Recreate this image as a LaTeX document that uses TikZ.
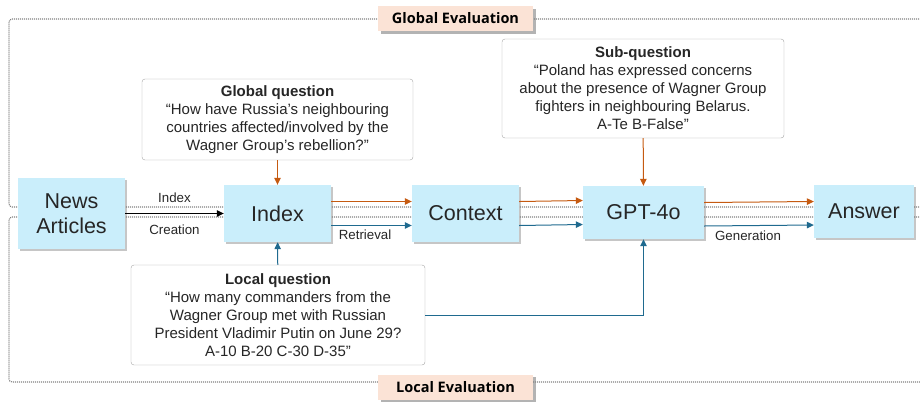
\documentclass[tikz,border=0pt]{standalone}
\usepackage{fontspec}
\setmainfont{Liberation Sans}
\newfontfamily\evalfont{Open Sans}
\usepackage{xcolor}
\usetikzlibrary{positioning,arrows.meta,shadows}

\definecolor{stagefill}{HTML}{CAEEFB}
\definecolor{evalfill}{HTML}{FBE3D6}
\definecolor{globalc}{HTML}{C55A11}
\definecolor{localc}{HTML}{1F6A8F}
\definecolor{qtext}{HTML}{262626}

\begin{document}
\begin{tikzpicture}[x=1pt, y=-1pt,
    stage/.style={draw=none, rectangle, fill=stagefill, text=black!85, font=\fontsize{21.5}{25}\selectfont,
        align=center, inner sep=0pt, drop shadow={shadow xshift=2pt, shadow yshift=-2pt, opacity=0.45}},
    question/.style={draw=black!35, rectangle, rounded corners=3pt, fill=white, text=qtext,
        font=\fontsize{15}{18}\selectfont, align=center, inner sep=0pt},
    evallabel/.style={rectangle, fill=evalfill, font=\evalfont\bfseries\fontsize{14.5}{16}\selectfont,
        minimum width=155pt, minimum height=25pt, inner sep=0pt,
        drop shadow={shadow xshift=2.5pt, shadow yshift=-2.5pt, opacity=0.6}},
    evalbox/.style={draw=black!50, line width=1.1pt, dash pattern=on 1pt off 1pt, rounded corners=3pt},
    flow/.style={-{Triangle[length=7pt,width=6.5pt]}, line width=1pt},
    gflow/.style={flow, draw=globalc},
    lflow/.style={flow, draw=localc},
    steplabel/.style={font=\fontsize{13.3}{15}\selectfont, text=black!85}]

    \useasboundingbox (0,0) rectangle (920,405);

    % Evaluation regions
    \draw[evalbox] (935,19) -- (9,19) -- (9,207) -- (935,207);
    \draw[evalbox] (935,217) -- (9,217) -- (9,382) -- (935,382);

    % Pipeline stages
    \node[stage, minimum width=107pt, minimum height=71pt] (news) at (71.5,213.5) {News\\Articles};
    \node[stage, minimum width=107pt, minimum height=57pt] (index) at (277.5,213.5) {Index};
    \node[stage, minimum width=107pt, minimum height=57pt] (context) at (465.5,213.5) {Context};
    \node[stage, minimum width=121pt, minimum height=53pt] (gpt) at (643.5,212.5) {GPT-4o};
    \node[stage, minimum width=100pt, minimum height=53pt] (answer) at (864,211.5) {Answer};

    % Questions
    \node[question, minimum width=271pt, minimum height=81pt] (globalq) at (277.5,119.5)
        {\textbf{Global question}\\``How have Russia's neighbouring\\countries affected/involved by the\\Wagner Group's rebellion?''};
    \node[question, minimum width=282pt, minimum height=99pt] (subq) at (643,88.5)
        {\textbf{Sub-question}\\``Poland has expressed concerns\\about the presence of Wagner Group\\fighters in neighbouring Belarus.\\A-Te B-False''};
    \node[question, minimum width=294pt, minimum height=100pt] (localq) at (278,315)
        {\textbf{Local question}\\``How many commanders from the\\Wagner Group met with Russian\\President Vladimir Putin on June 29?\\A-10 B-20 C-30 D-35''};

    % Evaluation labels
    \node[evallabel] (globaleval) at (455.5,18.5) {Global Evaluation};
    \node[evallabel] (localeval) at (455.5,387) {Local Evaluation};

    % Index creation
    \draw[flow, draw=black] (news.east |- index) -- (index.west)
        node[midway, above=7.5pt, steplabel] {Index}
        node[midway, below=7.5pt, steplabel] {Creation};

    % Global path
    \draw[gflow] (globalq) -- (index);
    \draw[gflow] ([yshift=12pt]index.east) -- ([yshift=12pt]context.west);
    \draw[gflow] ([yshift=12pt]context.east) -- ([yshift=12pt]gpt.west);
    \draw[gflow] ([yshift=10pt]gpt.east) -- ([yshift=10pt]answer.west);
    \draw[gflow] (subq) -- (gpt);

    % Local path
    \draw[lflow] (localq) -- (index);
    \draw[lflow] ([yshift=-12pt]index.east) -- ([yshift=-12pt]context.west)
        node[pos=0.42, below=1pt, steplabel] {Retrieval};
    \draw[lflow] ([yshift=-12pt]context.east) -- ([yshift=-12pt]gpt.west);
    \draw[lflow] ([yshift=-13.5pt]gpt.east) -- ([yshift=-13.5pt]answer.west)
        node[pos=0.4, below=1pt, steplabel] {Generation};
    \draw[lflow] (localq.east) -| (gpt.south);
\end{tikzpicture}
\end{document}
